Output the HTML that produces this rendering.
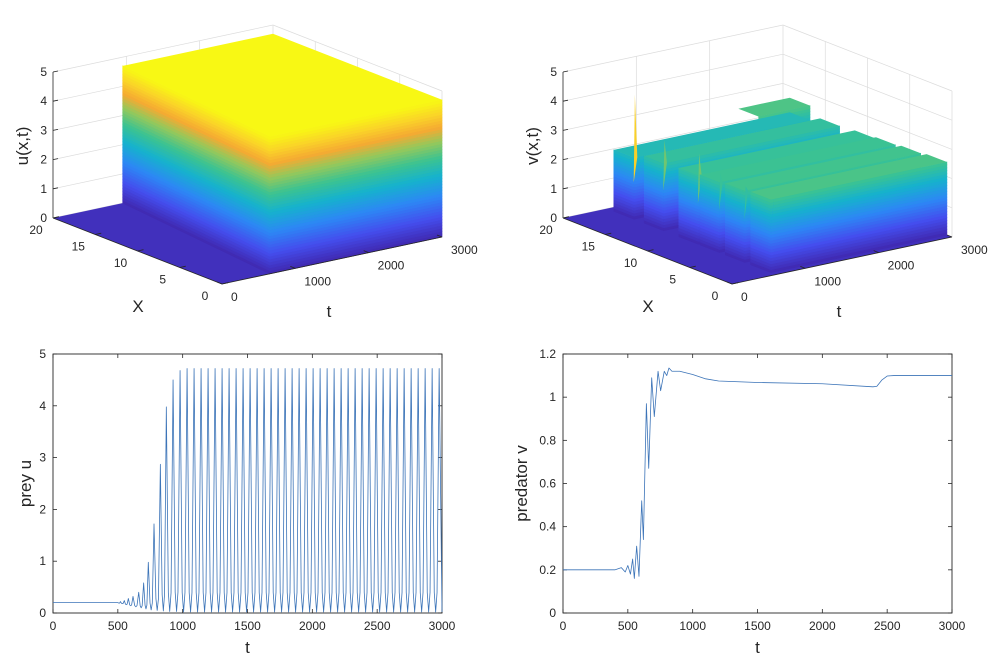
<!DOCTYPE html>
<html><head><meta charset="utf-8"><style>
html,body{margin:0;padding:0;background:#fff;}
svg{display:block;font-family:"Liberation Sans",Arial,sans-serif;}
.tk{font-size:12px;fill:#262626;}
.lb{font-size:17px;fill:#262626;}
</style></head><body>
<svg id="fig" width="994" height="656" viewBox="0 0 994 656" xmlns="http://www.w3.org/2000/svg">
<g id="p3u"></g>
<g id="p3v"></g>
<g id="p2u"></g>
<g id="p2v"></g>
</svg>
<script>
// ---------- data: prey u(t) ----------
const preyPeakT = [520,550,581,617,661,699,735,779,828,874,926,980,1034,1088,1142,1196,1250,1304,1358,1412,1466,1520,1574,1628,1682,1736,1790,1844,1898,1952,2006,2060,2114,2168,2222,2276,2330,2384,2438,2492,2546,2600,2654,2708,2762,2816,2870,2924,2978];
const preyPeakU = [0.22,0.24,0.28,0.32,0.40,0.58,0.98,1.72,2.87,3.98,4.50,4.68,4.72,4.72,4.72,4.72,4.72,4.72,4.72,4.72,4.72,4.72,4.72,4.72,4.72,4.72,4.72,4.72,4.72,4.72,4.72,4.72,4.72,4.72,4.72,4.72,4.72,4.72,4.72,4.72,4.72,4.72,4.72,4.72,4.72,4.72,4.72,4.72,4.72];
const preyTroughU = [0.19,0.18,0.16,0.14,0.12,0.10,0.08,0.06,0.05,0.04,0.03,0.03,0.02,0.02,0.02,0.02,0.02,0.02,0.02,0.02,0.02,0.02,0.02,0.02,0.02,0.02,0.02,0.02,0.02,0.02,0.02,0.02,0.02,0.02,0.02,0.02,0.02,0.02,0.02,0.02,0.02,0.02,0.02,0.02,0.02,0.02,0.02,0.02,0.02];
const preyBaseline = 0.2;
// ---------- data: predator v(t) ----------
const predT = [0,400,450,480,500,520,537,550,568,586,607,620,643,661,684,704,733,753,781,800,817,840,900,1000,1100,1200,1500,2000,2390,2420,2460,2500,2550,3000];
const predV = [0.2,0.2,0.21,0.19,0.22,0.18,0.25,0.16,0.31,0.17,0.52,0.34,0.97,0.67,1.09,0.91,1.12,1.03,1.12,1.10,1.135,1.12,1.12,1.105,1.085,1.075,1.068,1.062,1.048,1.05,1.08,1.098,1.1,1.1];
const xTicks = [0,500,1000,1500,2000,2500,3000];
const uTicks = [0,1,2,3,4,5];
const vTicks = [0,0.2,0.4,0.6,0.8,1,1.2];
// ---------- data: 3D surfaces ----------
const uPlateau = 4.7;
const uRiseT0 = 650;
const uRiseT20 = 950;
const ridgeBack  = [19.2,15.6,11.5,9.0,6.0,3.0];
const ridgeFront = [16.8,13.3,9.2,6.7,3.7,0.6];
const ridgeStart = [600,600,600,600,600,600];
const ridgeH     = [2.1,2.3,2.35,2.4,2.45,2.5];
const spikeH     = [4.25,3.1,3.1,2.7,2.6,1.9];

const NS="http://www.w3.org/2000/svg";
function mk(tag,attrs,parent){const e=document.createElementNS(NS,tag);for(const k in attrs)e.setAttribute(k,attrs[k]);parent.appendChild(e);return e;}
const stops=[[0,[64,40,175]],[0.15,[68,78,238]],[0.3,[45,135,245]],[0.45,[22,178,205]],[0.58,[60,195,145]],[0.7,[150,200,90]],[0.8,[245,170,50]],[0.9,[250,212,40]],[1,[248,248,20]]];
function parula(f){f=Math.max(0,Math.min(1,f));for(let i=1;i<stops.length;i++){if(f<=stops[i][0]){const a=stops[i-1],b=stops[i],r=(f-a[0])/(b[0]-a[0]);const c=a[1].map((v,j)=>Math.round(v+(b[1][j]-v)*r));return `rgb(${c[0]},${c[1]},${c[2]})`;}}return 'rgb(248,248,20)';}
function P(t,X,z,off){return [222+off+220*t/3000-169*X/20, 284-47*t/3000-66*X/20-146*z/5];}
function pts(a){return a.map(p=>p[0].toFixed(1)+','+p[1].toFixed(1)).join(' ');}

function gl(g,a,b){let l=mk('line',{x1:a[0],y1:a[1],x2:b[0],y2:b[1],stroke:'#dcdcdc','stroke-width':0.7},g);
  
  }
function axes3d(g,off){
  for(let z=0;z<=5;z++){gl(g,P(0,20,z,off),P(3000,20,z,off));gl(g,P(3000,20,z,off),P(3000,0,z,off));}
  for(const t of [1000,2000,3000])gl(g,P(t,20,0,off),P(t,20,5,off));
  for(const X of [0,5,10,15])gl(g,P(3000,X,0,off),P(3000,X,5,off));
  for(const t of [1000,2000])gl(g,P(t,20,0,off),P(t,0,0,off));
  for(const X of [5,10,15])gl(g,P(0,X,0,off),P(3000,X,0,off));
}
function axes3dFront(g,off,zlab){
  const ax='#262626';
  const z0=P(0,20,0,off),z5=P(0,20,5,off);
  let a=mk('line',{x1:z0[0],y1:z0[1],x2:z5[0],y2:z5[1],stroke:ax,'stroke-width':0.8},g);
  
  for(let z=0;z<=5;z++){const p=P(0,20,z,off);mk('line',{x1:p[0],y1:p[1],x2:p[0]+5,y2:p[1]-1,stroke:ax,'stroke-width':0.8},g);
    let t=mk('text',{x:p[0]-6,y:p[1]+4,'text-anchor':'end',class:'tk'},g);t.textContent=z;}
  const x0=P(0,0,0,off),x20=P(0,20,0,off);
  let b=mk('line',{x1:x0[0],y1:x0[1],x2:x20[0],y2:x20[1],stroke:ax,'stroke-width':0.8},g);
  
  for(const X of [0,5,10,15,20]){const p=P(0,X,0,off);mk('line',{x1:p[0],y1:p[1],x2:p[0]+6,y2:p[1]-1.3,stroke:ax,'stroke-width':0.8},g);
    let t=mk('text',{x:p[0]-17,y:p[1]+16,'text-anchor':'middle',class:'tk'},g);t.textContent=X;}
  const t3=P(3000,0,0,off);
  let c=mk('line',{x1:x0[0],y1:x0[1],x2:t3[0],y2:t3[1],stroke:ax,'stroke-width':0.8},g);
  
  for(const tt of [0,1000,2000,3000]){const p=P(tt,0,0,off);mk('line',{x1:p[0],y1:p[1],x2:p[0]-5,y2:p[1]-2,stroke:ax,'stroke-width':0.8},g);
    let t=mk('text',{x:p[0]+9,y:p[1]+17,'text-anchor':'start',class:'tk'},g);t.textContent=tt;}
  let lx=mk('text',{x:138+off,y:312,'text-anchor':'middle',class:'lb','font-size':'18'},g);lx.textContent='X';
  let lt=mk('text',{x:329+off,y:317,'text-anchor':'middle',class:'lb','font-size':'18'},g);lt.textContent='t';
  let lz=mk('text',{x:0,y:0,'text-anchor':'middle',class:'lb',transform:`translate(${28+off},146) rotate(-90)`},g);lz.textContent=zlab;
}
function bands(g,fn,zTop,cmax,name){
  const dz=0.1;
  for(let z=0;z<zTop-1e-6;z+=dz){const z2=Math.min(zTop,z+dz);const col=parula((z+z2)/2/cmax);
    let p=mk('polygon',{points:pts(fn(z,z2)),fill:col,stroke:col,'stroke-width':0.6},g);
    
    }
}
// ----- u surface -----
(function(){
  const g=document.getElementById('p3u'),off=0;
  axes3d(g,off);
  let f=mk('polygon',{points:pts([P(0,0,0,off),P(3000,0,0,off),P(3000,20,0,off),P(0,20,0,off)]),fill:parula(0.03)},g);
  
  bands(g,(z,z2)=>[P(uRiseT0,0,z,off),P(uRiseT20,20,z,off),P(uRiseT20,20,z2,off),P(uRiseT0,0,z2,off)],uPlateau,uPlateau,'surface-rise-face');
  bands(g,(z,z2)=>[P(uRiseT0,0,z,off),P(3000,0,z,off),P(3000,0,z2,off),P(uRiseT0,0,z2,off)],uPlateau,uPlateau,'surface-front-face');
  let top=mk('polygon',{points:pts([P(uRiseT20,20,uPlateau,off),P(3000,20,uPlateau,off),P(3000,0,uPlateau,off),P(uRiseT0,0,uPlateau,off)]),fill:parula(1)},g);
  
  axes3dFront(g,off,'u(x,t)');
})();
// ----- v surface -----
(function(){
  const g=document.getElementById('p3v'),off=510,cmax=4.3;
  axes3d(g,off);
  let f=mk('polygon',{points:pts([P(0,0,0,off),P(3000,0,0,off),P(3000,20,0,off),P(0,20,0,off)]),fill:parula(0.03)},g);
  
  for(let k=0;k<ridgeBack.length;k++){
    const a=ridgeBack[k],b=ridgeFront[k],ts=ridgeStart[k],h=ridgeH[k];
    if(k===0){const h2=h+0.5,t2=2300;
      bands(g,(z,z2)=>[P(t2,b,z,off),P(3000,b,z,off),P(3000,b,z2,off),P(t2,b,z2,off)],h2,cmax,'ridge-step-face');
      let s=mk('polygon',{points:pts([P(t2,a,h2,off),P(3000,a,h2,off),P(3000,b,h2,off),P(t2,b,h2,off)]),fill:parula(h2/cmax)},g);
      
      }
    bands(g,(z,z2)=>[P(ts,a,z,off),P(ts,b,z,off),P(ts,b,z2,off),P(ts,a,z2,off)],h,cmax,'ridge-left-face');
    bands(g,(z,z2)=>[P(ts,b,z,off),P(3000,b,z,off),P(3000,b,z2,off),P(ts,b,z2,off)],h,cmax,'ridge-front-face');
    let tp=mk('polygon',{points:pts([P(ts,a,h,off),P(3000,a,h,off),P(3000,b,h,off),P(ts,b,h,off)]),fill:parula(h/cmax*1.03)},g);
    
    
    const sp=mk('polygon',{points:pts([P(ts-5,b,h*0.6,off),P(ts+12,b,spikeH[k],off),P(ts+45,b,h,off)]),fill:parula(spikeH[k]/cmax*0.9)},g);
    
    
  }
  axes3dFront(g,off,'v(x,t)');
})();
// ----- 2D charts -----
function chart2d(gid,L,yMax,yTicks,ylab,ylabOff,tArr,vArr){
  const g=document.getElementById(gid),T=354,B=613,R=L+389;
  const sx=t=>L+t/3000*389, sy=v=>B-v/yMax*259;
  let fr=mk('rect',{x:L,y:T,width:389,height:259,fill:'none',stroke:'#262626','stroke-width':0.9},g);
  
  for(const t of xTicks){const x=sx(t);mk('line',{x1:x,y1:B,x2:x,y2:B-4,stroke:'#262626','stroke-width':0.8},g);mk('line',{x1:x,y1:T,x2:x,y2:T+4,stroke:'#262626','stroke-width':0.8},g);
    let tx=mk('text',{x:x,y:B+17,'text-anchor':'middle',class:'tk'},g);tx.textContent=t;}
  for(const v of yTicks){const y=sy(v);mk('line',{x1:L,y1:y,x2:L+4,y2:y,stroke:'#262626','stroke-width':0.8},g);mk('line',{x1:R,y1:y,x2:R-4,y2:y,stroke:'#262626','stroke-width':0.8},g);
    let tx=mk('text',{x:L-7,y:y+4,'text-anchor':'end',class:'tk'},g);tx.textContent=v;}
  let xl=mk('text',{x:(L+R)/2,y:653,'text-anchor':'middle',class:'lb','font-size':'18'},g);xl.textContent='t';
  let yl=mk('text',{x:0,y:0,'text-anchor':'middle',class:'lb',transform:`translate(${L-ylabOff},${(T+B)/2}) rotate(-90)`},g);yl.textContent=ylab;
  let d='';for(let i=0;i<tArr.length;i++){d+=(i?'L':'M')+sx(tArr[i]).toFixed(2)+','+sy(vArr[i]).toFixed(2);}
  let p=mk('path',{d:d,fill:'none',stroke:'#3c74b8','stroke-width':0.8,'stroke-linejoin':'round'},g);
  
}
const preyT=[0,500], preyU=[preyBaseline,preyBaseline];
for(let i=0;i<preyPeakT.length;i++){
  const prev=i?preyPeakT[i-1]:500, gap=preyPeakT[i]-prev, tr=preyTroughU[i], pk=preyPeakU[i];
  const sh=tr+0.08*(pk-tr);
  preyT.push(prev+gap*0.3,prev+gap*0.5,prev+gap*0.7,preyPeakT[i]);
  preyU.push(sh,tr,sh,pk);
}
preyT.push(3000);preyU.push(preyTroughU[preyTroughU.length-1]);
chart2d('p2u',53,5,uTicks,'prey u',22,preyT,preyU);
chart2d('p2v',563,1.2,vTicks,'predator v',36,predT,predV);
</script>
</body></html>
